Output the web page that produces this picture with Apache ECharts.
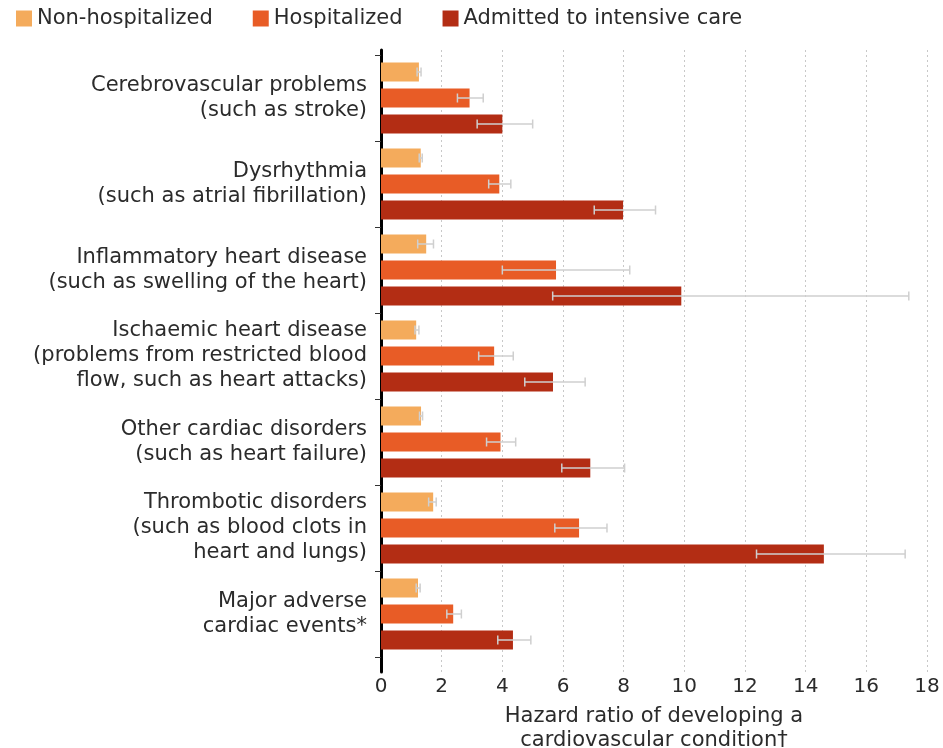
<!DOCTYPE html>
<html>
<head>
<meta charset="utf-8">
<script src="https://cdn.jsdelivr.net/npm/echarts@6/dist/echarts.min.js"></script>
<style>
  html, body { margin: 0; padding: 0; background: #fff; }
  #chart { width: 943px; height: 748px; }
</style>
</head>
<body>
<div id="chart"></div>
<script>
const categories = [
  'Cerebrovascular problems\n(such as stroke)',
  'Dysrhythmia\n(such as atrial fibrillation)',
  'Inflammatory heart disease\n(such as swelling of the heart)',
  'Ischaemic heart disease\n(problems from restricted blood\nflow, such as heart attacks)',
  'Other cardiac disorders\n(such as heart failure)',
  'Thrombotic disorders\n(such as blood clots in\nheart and lungs)',
  'Major adverse\ncardiac events*'
]
const seriesNames = ['Non-hospitalized', 'Hospitalized', 'Admitted to intensive care']

const nonHosp = [1.25, 1.31, 1.49, 1.16, 1.32, 1.72, 1.22]
const nonHospLow = [1.19, 1.26, 1.21, 1.12, 1.27, 1.57, 1.16]
const nonHospHigh = [1.32, 1.36, 1.73, 1.25, 1.37, 1.82, 1.29]

const hosp = [2.92, 3.9, 5.77, 3.73, 3.94, 6.53, 2.38]
const hospLow = [2.52, 3.55, 4.0, 3.22, 3.48, 5.73, 2.17]
const hospHigh = [3.37, 4.28, 8.2, 4.36, 4.44, 7.45, 2.65]

const icu = [4.0, 7.98, 9.9, 5.67, 6.9, 14.6, 4.35]
const icuLow = [3.17, 7.03, 5.66, 4.74, 5.96, 12.38, 3.85]
const icuHigh = [5.0, 9.05, 17.4, 6.73, 8.03, 17.28, 4.94]

const xTicks = [0, 2, 4, 6, 8, 10, 12, 14, 16, 18]

const colors = ['#F4AB5C', '#E85C26', '#B32D14']
const fontFamily = '"DejaVu Sans", sans-serif'
const textColor = '#2b2b2b'

const barWidth = 19
const barGap = 7

function errorData(low, high) {
  return low.map((l, i) => [l, high[i], i])
}

// slot = position of the bar inside its category (0 = top)
function errorSeries(name, low, high, slot) {
  return {
    name: name,
    type: 'custom',
    xAxisIndex: 1,
    yAxisIndex: 1,
    z: 5,
    silent: true,
    encode: { x: [0, 1], y: 2 },
    data: errorData(low, high),
    renderItem(params, api) {
      const p1 = api.coord([api.value(0), api.value(2)])
      const p2 = api.coord([api.value(1), api.value(2)])
      const y = p1[1] + (slot - 1) * (barWidth + barGap)
      const cap = 4.5
      const style = { stroke: '#cfcfcf', lineWidth: 1.5 }
      return {
        type: 'group',
        children: [
          { type: 'line', shape: { x1: p1[0], y1: y, x2: p2[0], y2: y }, style },
          { type: 'line', shape: { x1: p1[0], y1: y - cap, x2: p1[0], y2: y + cap }, style },
          { type: 'line', shape: { x1: p2[0], y1: y - cap, x2: p2[0], y2: y + cap }, style }
        ]
      }
    }
  }
}

const chart = echarts.init(document.getElementById('chart'))

chart.setOption({
  animation: false,
  color: colors,
  textStyle: { fontFamily: fontFamily },
  legend: {
    data: seriesNames,
    left: 11,
    top: 3,
    icon: 'rect',
    itemWidth: 16,
    itemHeight: 16,
    itemGap: 40,
    textStyle: { fontSize: 21, color: textColor, fontFamily: fontFamily }
  },
  grid: [
    { left: 381, right: 16, top: 50, bottom: 76, outerBoundsMode: 'none' },
    { left: 381, right: 16, top: 55, bottom: 91, outerBoundsMode: 'none' }
  ],
  xAxis: [
    {
      gridIndex: 0,
      type: 'value',
      min: xTicks[0],
      max: xTicks[xTicks.length - 1],
      interval: 2,
      axisLine: { show: false },
      axisTick: { show: false },
      axisLabel: { fontSize: 20, color: textColor, margin: 5, fontFamily: fontFamily },
      splitLine: { lineStyle: { color: '#c8c8c8', type: [2, 3], width: 1 } },
      name: 'Hazard ratio of developing a\ncardiovascular condition\u2020',
      nameLocation: 'middle',
      nameGap: 33,
      nameTextStyle: { fontSize: 21, color: textColor, lineHeight: 24, fontFamily: fontFamily }
    },
    {
      gridIndex: 1,
      type: 'value',
      min: xTicks[0],
      max: xTicks[xTicks.length - 1],
      show: false
    }
  ],
  yAxis: [
    {
      gridIndex: 0,
      type: 'value',
      axisLine: { show: true, lineStyle: { color: '#000', width: 3 } },
      axisTick: { show: false },
      axisLabel: { show: false },
      splitLine: { show: false }
    },
    {
      gridIndex: 1,
      type: 'category',
      inverse: true,
      data: categories,
      axisLine: { show: false },
      axisTick: { show: true, length: 6, lineStyle: { color: '#333', width: 1 } },
      axisLabel: {
        fontSize: 21,
        color: textColor,
        lineHeight: 25,
        margin: 14,
        align: 'right',
        fontFamily: fontFamily
      }
    }
  ],
  series: [
    {
      name: seriesNames[0], type: 'bar', xAxisIndex: 1, yAxisIndex: 1,
      barWidth: barWidth, barGap: (barGap / barWidth * 100) + '%', data: nonHosp
    },
    {
      name: seriesNames[1], type: 'bar', xAxisIndex: 1, yAxisIndex: 1,
      barWidth: barWidth, barGap: (barGap / barWidth * 100) + '%', data: hosp
    },
    {
      name: seriesNames[2], type: 'bar', xAxisIndex: 1, yAxisIndex: 1,
      barWidth: barWidth, barGap: (barGap / barWidth * 100) + '%', data: icu
    },
    errorSeries(seriesNames[0], nonHospLow, nonHospHigh, 0),
    errorSeries(seriesNames[1], hospLow, hospHigh, 1),
    errorSeries(seriesNames[2], icuLow, icuHigh, 2)
  ]
})
</script>
</body>
</html>
